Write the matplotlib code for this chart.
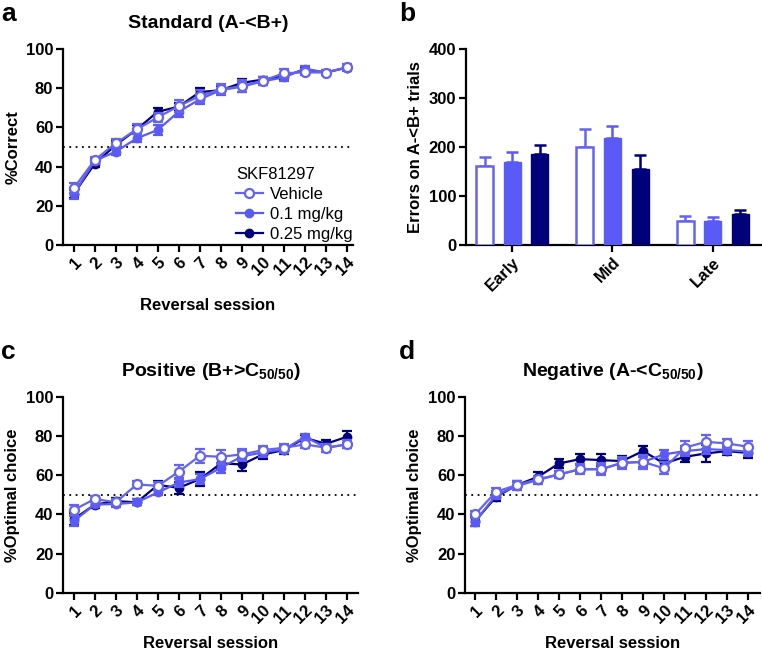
import numpy as np
import matplotlib
matplotlib.use("Agg")
import matplotlib.pyplot as plt
from matplotlib.lines import Line2D

plt.rcParams['font.family'] = ['Liberation Sans', 'DejaVu Sans']
plt.rcParams['mathtext.fontset'] = 'custom'
plt.rcParams['mathtext.rm'] = 'Liberation Sans:bold'
plt.rcParams['mathtext.bf'] = 'Liberation Sans:bold'
plt.rcParams['mathtext.it'] = 'Liberation Sans:bold'

sessions = np.arange(1, 15)
session_labels = [str(s) for s in sessions]
groups = ["Vehicle", "0.1 mg/kg", "0.25 mg/kg"]

# Panel a: Standard (% correct)
std_veh = [28.9, 43.4, 51.9, 59.0, 65.1, 70.9, 76.0, 79.4, 81.0, 83.8, 87.6, 88.1, 88.0, 90.6]
std_veh_err = [2.5, 1.5, 2.0, 2.5, 2.5, 3.0, 3.0, 2.5, 3.0, 2.0, 2.0, 1.5, 1.5, 1.5]
std_01 = [26.0, 43.0, 47.6, 54.4, 58.7, 68.0, 74.3, 79.0, 80.8, 83.5, 85.5, 90.0, 88.0, 90.5]
std_01_err = [2.5, 1.5, 1.5, 2.0, 2.5, 2.5, 2.5, 2.5, 2.5, 2.0, 2.0, 1.5, 1.5, 1.5]
std_025 = [26.0, 41.5, 51.0, 59.0, 68.0, 70.6, 78.0, 79.0, 82.7, 84.4, 86.0, 89.5, 88.0, 90.5]
std_025_err = [2.0, 1.5, 2.0, 2.0, 2.0, 2.0, 2.0, 2.0, 2.0, 1.5, 1.5, 1.5, 1.0, 1.0]

# Panel b: errors on A-<B+ trials
phases = ["Early", "Mid", "Late"]
err_veh = [161, 200, 50]
err_veh_sem = [18, 37, 9]
err_01 = [169, 218, 48]
err_01_sem = [21, 25, 10]
err_025 = [185, 156, 63]
err_025_sem = [19, 28, 9]

# Panel c: Positive (% optimal choice)
pos_veh = [42.3, 47.9, 46.2, 55.3, 54.6, 61.8, 69.9, 69.4, 70.6, 72.8, 74.0, 75.7, 74.0, 75.7]
pos_veh_err = [2.5, 1.5, 1.5, 2.0, 2.0, 3.5, 3.5, 3.5, 3.0, 2.0, 2.0, 2.0, 2.0, 2.0]
pos_01 = [36.6, 45.1, 45.3, 46.2, 51.2, 56.3, 58.0, 63.8, 69.6, 71.6, 73.1, 79.6, 74.0, 75.7]
pos_01_err = [2.5, 1.5, 1.5, 1.5, 1.5, 2.5, 2.5, 2.5, 2.5, 2.5, 2.0, 1.5, 2.0, 2.0]
pos_025 = [37.6, 45.0, 46.8, 46.2, 55.0, 53.6, 58.0, 66.0, 65.5, 70.6, 72.8, 79.0, 76.0, 79.6]
pos_025_err = [3.0, 1.5, 1.5, 1.5, 2.0, 3.0, 3.5, 3.0, 3.5, 2.5, 2.0, 1.5, 2.0, 3.0]

# Panel d: Negative (% optimal choice)
neg_veh = [40.0, 51.6, 55.0, 58.0, 60.4, 63.1, 63.1, 66.3, 66.8, 63.5, 74.1, 77.0, 76.2, 74.5]
neg_veh_err = [2.0, 2.0, 2.0, 1.5, 2.0, 2.5, 3.0, 3.0, 3.5, 3.0, 3.5, 3.5, 2.5, 3.0]
neg_01 = [36.3, 49.9, 54.6, 57.6, 60.4, 63.0, 63.0, 66.3, 66.8, 70.6, 72.3, 73.3, 72.8, 72.0]
neg_01_err = [2.0, 2.0, 2.0, 2.0, 2.0, 2.0, 2.0, 2.0, 2.5, 2.5, 2.5, 2.5, 2.0, 2.0]
neg_025 = [36.6, 49.0, 55.0, 59.2, 66.0, 68.2, 67.7, 67.2, 72.3, 66.0, 69.4, 71.1, 72.3, 71.3]
neg_025_err = [2.5, 2.0, 2.0, 2.5, 2.5, 2.5, 3.0, 2.5, 2.5, 2.5, 2.5, 4.5, 2.0, 2.5]

C_VEH = '#6464ee'
C_01 = '#5a5af6'
C_025 = '#00007a'

W, H = 762, 657
fig = plt.figure(figsize=(W / 100, H / 100), dpi=100)

TICK_FS = 12
LABEL_FS = 12
TITLE_FS = 14


def ax_at(left, top, right, bottom):
    return fig.add_axes([left / W, 1 - bottom / H, (right - left) / W, (bottom - top) / H])


def style(ax):
    for s in ['top', 'right']:
        ax.spines[s].set_visible(False)
    for s in ['left', 'bottom']:
        ax.spines[s].set_linewidth(1.6)
        ax.spines[s].set_color('black')
    ax.tick_params(width=1.6, length=5, labelsize=TICK_FS, direction='out', pad=2)
    for lab in ax.get_yticklabels() + ax.get_xticklabels():
        lab.set_fontweight('bold')


def line_panel(ax, data, ylabel, title, xlim, xlabelpad):
    (v, ve), (a, ae), (b, be) = data
    ax.errorbar(sessions, b, yerr=be, color=C_025, marker='o', ms=6, mfc=C_025, mec=C_025,
                lw=1.6, elinewidth=1.6, capsize=3.5, capthick=1.6, zorder=3)
    ax.errorbar(sessions, a, yerr=ae, color=C_01, marker='o', ms=6, mfc=C_01, mec=C_01,
                lw=1.6, elinewidth=1.6, capsize=3.5, capthick=1.6, zorder=4)
    ax.errorbar(sessions, v, yerr=ve, color=C_VEH, marker='o', ms=6.5, mfc='white', mec=C_VEH, mew=1.6,
                lw=1.6, elinewidth=1.6, capsize=3.5, capthick=1.6, zorder=5)
    ax.axhline(50, color='black', ls=(0, (1, 2.5)), lw=1.3, zorder=2)
    ax.set_ylim(0, 100)
    ax.set_yticks([0, 20, 40, 60, 80, 100])
    ax.set_xlim(*xlim)
    ax.set_xticks(sessions)
    ax.set_xticklabels(session_labels, rotation=45, ha='right', va='top', rotation_mode='anchor')
    ax.set_ylabel(ylabel, fontsize=LABEL_FS, fontweight='bold', labelpad=4)
    ax.set_xlabel("Reversal session", fontsize=LABEL_FS, fontweight='bold', labelpad=xlabelpad)
    ax.set_title(title, fontsize=TITLE_FS, fontweight='bold', pad=15)
    style(ax)


# Panel a
axa = ax_at(63, 49, 353, 245)
line_panel(axa, [(std_veh, std_veh_err), (std_01, std_01_err), (std_025, std_025_err)],
           "%Correct", "Standard (A-<B+)", (0.49, 14.3), 14)
handles = [
    Line2D([], [], color=C_VEH, marker='o', ms=6.5, mfc='white', mec=C_VEH, mew=1.6, lw=1.6),
    Line2D([], [], color=C_01, marker='o', ms=6, mfc=C_01, mec=C_01, lw=1.6),
    Line2D([], [], color=C_025, marker='o', ms=6, mfc=C_025, mec=C_025, lw=1.6),
]
leg = axa.legend(handles, groups, title="SKF81297", loc='lower left',
                 bbox_to_anchor=((236 - 63) / 290, (245 - 242) / 196),
                 frameon=False, fontsize=12, title_fontsize=12, handlelength=1.6, handletextpad=0.45,
                 labelspacing=0.3, borderpad=0.0, borderaxespad=0.0)
leg._legend_box.align = 'left'

# Panel b
axb = ax_at(466, 49, 761, 245)
xb = np.arange(len(phases))
off = 0.275
bw = 0.17
axb.bar(xb - off, err_veh, bw, color='white', edgecolor=C_VEH, lw=1.8, zorder=3)
axb.errorbar(xb - off, err_veh, yerr=[np.zeros(3), err_veh_sem], fmt='none', ecolor=C_VEH,
             elinewidth=1.8, capsize=4, capthick=1.8, zorder=2)
axb.bar(xb, err_01, bw, color=C_01, edgecolor=C_01, lw=1.0, zorder=3)
axb.errorbar(xb, err_01, yerr=[np.zeros(3), err_01_sem], fmt='none', ecolor=C_01,
             elinewidth=1.8, capsize=4, capthick=1.8, zorder=2)
axb.bar(xb + off, err_025, bw, color=C_025, edgecolor=C_025, lw=1.0, zorder=3)
axb.errorbar(xb + off, err_025, yerr=[np.zeros(3), err_025_sem], fmt='none', ecolor=C_025,
             elinewidth=1.8, capsize=4, capthick=1.8, zorder=2)
axb.set_ylim(0, 400)
axb.set_yticks([0, 100, 200, 300, 400])
axb.set_xlim(-0.46, 2.48)
axb.set_xticks(xb)
axb.set_xticklabels(phases, rotation=45, ha='right', va='top', rotation_mode='anchor')
axb.set_ylabel("Errors on A-<B+ trials", fontsize=LABEL_FS, fontweight='bold', labelpad=4)
style(axb)

# Panel c
axc = ax_at(63, 396.7, 358, 593)
line_panel(axc, [(pos_veh, pos_veh_err), (pos_01, pos_01_err), (pos_025, pos_025_err)],
           "%Optimal choice", r"Positive (B+>C$_{50/50}$)", (0.49, 14.52), 7)

# Panel d
axd = ax_at(465, 396.7, 760, 593)
line_panel(axd, [(neg_veh, neg_veh_err), (neg_01, neg_01_err), (neg_025, neg_025_err)],
           "%Optimal choice", r"Negative (A-<C$_{50/50}$)", (0.52, 14.57), 7)

# Panel letters
for txt, x, y in [("a", 1, 2), ("b", 399, 2), ("c", 1, 340), ("d", 399, 340)]:
    fig.text(x / W, 1 - y / H, txt, fontsize=19, fontweight='bold', ha='left', va='top')

fig.savefig("out.png", dpi=100)
